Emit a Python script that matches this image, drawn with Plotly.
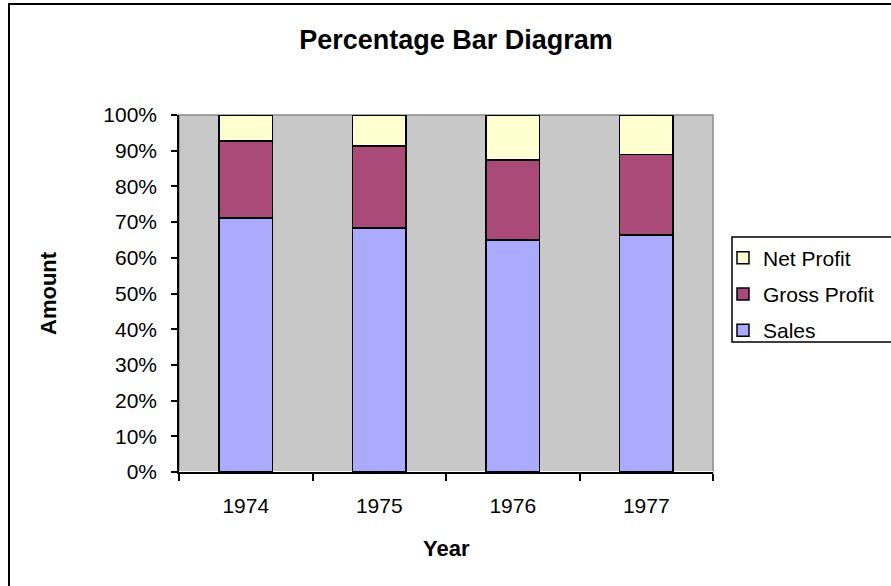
import plotly.graph_objects as go

years = ["1974", "1975", "1976", "1977"]
sales = [71.2, 68.3, 65.0, 66.4]
gross_profit = [21.5, 23.0, 22.4, 22.5]
net_profit = [7.3, 8.7, 12.6, 11.1]

series_names = ["Sales", "Gross Profit", "Net Profit"]
series_values = [sales, gross_profit, net_profit]
series_colors = ["#AAAAFF", "#AA4A78", "#FFFFD0"]
legend_ranks = [3, 2, 1]

y_ticks = [0, 10, 20, 30, 40, 50, 60, 70, 80, 90, 100]
y_tick_labels = [f"{v}%" for v in y_ticks]

W, H = 891, 586
L, R, T, B = 179, 178, 115, 114
pw, ph = W - L - R, H - T - B

def px_x(x):
    return (x - L) / pw

def px_y(y):
    return 1 - (y - T) / ph

FONT = "Liberation Sans, Arial, sans-serif"

fig = go.Figure()
for name, vals, col, rk in zip(series_names, series_values, series_colors, legend_ranks):
    fig.add_trace(go.Bar(
        x=years, y=vals, name=name, legendgroup=name, legendrank=rk,
        marker=dict(color=col, line=dict(color="black", width=1.5)),
    ))

fig.update_layout(
    width=W, height=H,
    margin=dict(l=L, r=R, t=T, b=B, autoexpand=False),
    paper_bgcolor="white",
    plot_bgcolor="#C8C8C8",
    barmode="stack",
    bargap=0.6,
    font=dict(family=FONT, size=21, color="black"),
    showlegend=True,
    legend=dict(
        x=px_x(723), xanchor="left", y=px_y(237.5), yanchor="top",
        traceorder="grouped", tracegroupgap=6,
        borderwidth=0, bgcolor="rgba(0,0,0,0)",
        font=dict(family=FONT, size=21, color="black"),
        itemclick=False, itemdoubleclick=False,
    ),
    xaxis=dict(
        type="category", showgrid=False, showline=True, linecolor="black", linewidth=1.5,
        ticks="outside", tickson="boundaries", ticklen=7, tickcolor="black", tickwidth=1.5,
        ticklabelstandoff=14, tickfont=dict(size=21),
    ),
    yaxis=dict(
        range=[0, 100], tickvals=y_ticks, ticktext=y_tick_labels, showgrid=False,
        showline=True, linecolor="black", linewidth=1.5,
        ticks="outside", ticklen=6, tickcolor="black", tickwidth=1.5,
        ticklabelstandoff=10, tickfont=dict(size=21),
    ),
    title=dict(
        text="<b>Percentage Bar Diagram</b>", x=456 / W, xanchor="center",
        y=1 - 40 / H, yanchor="middle", yref="container",
        font=dict(family=FONT, size=27, color="black"),
    ),
    annotations=[
        dict(text="<b>Year</b>", x=px_x(446), y=px_y(548), xref="paper", yref="paper",
             showarrow=False, font=dict(size=22), xanchor="center", yanchor="middle"),
        dict(text="<b>Amount</b>", x=px_x(48), y=px_y(293), xref="paper", yref="paper",
             showarrow=False, textangle=-90, font=dict(size=22), xanchor="center", yanchor="middle"),
    ],
    shapes=[
        dict(type="rect", xref="paper", yref="paper", x0=0, y0=0, x1=1, y1=1,
             line=dict(color="#8C8C8C", width=1.5), layer="below"),
        dict(type="rect", xref="paper", yref="paper", x0=px_x(9), y0=px_y(620),
             x1=px_x(930), y1=px_y(4), line=dict(color="black", width=2)),
        dict(type="rect", xref="paper", yref="paper", x0=px_x(732), y0=px_y(342),
             x1=px_x(930), y1=px_y(237), fillcolor="white",
             line=dict(color="black", width=1.5), layer="above"),
    ],
)

fig.write_html("out.html", config={"displayModeBar": False},
               post_script="document.body.style.margin='0';")
